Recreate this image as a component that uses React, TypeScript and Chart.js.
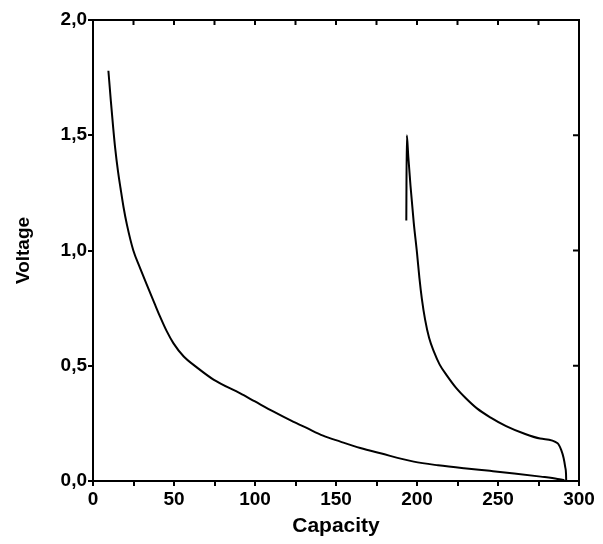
import React, { useEffect, useRef } from "react";
import { Chart, registerables } from "chart.js";

Chart.register(...registerables);

// Curve 1: long discharge curve
const curve1X = [9.5, 11, 12.5, 13.6, 15.5, 17, 18.8, 21, 24.9, 29, 33, 38.3, 41.4, 45.5, 49.7, 56, 64.1, 74.4, 90.9, 100, 111.5, 122, 132.2, 142, 152.7, 165, 177.5, 198, 213, 229, 245, 260, 276.4, 286.8, 291];
const curve1Y = [1.78, 1.65, 1.53, 1.45, 1.34, 1.27, 1.19, 1.11, 1.0, 0.925, 0.855, 0.765, 0.713, 0.65, 0.597, 0.54, 0.493, 0.44, 0.38, 0.345, 0.301, 0.263, 0.229, 0.197, 0.171, 0.143, 0.12, 0.084, 0.068, 0.055, 0.044, 0.033, 0.019, 0.009, 0.003];

// Curve 2: second discharge curve with initial spike
const curve2X = [193.4, 193.7, 194.6, 196, 198, 200, 201.5, 203, 205, 207.5, 210.5, 214, 218.7, 224, 230, 237, 245.5, 255, 266, 276, 286.8, 289, 290.5, 291.5, 292, 292.1];
const curve2Y = [1.13, 1.5, 1.41, 1.28, 1.12, 0.99, 0.88, 0.79, 0.7, 0.62, 0.56, 0.505, 0.455, 0.405, 0.36, 0.315, 0.275, 0.238, 0.206, 0.184, 0.164, 0.135, 0.1, 0.06, 0.03, 0.0];

const xMin = 0;
const xMax = 300;
const yMin = 0;
const yMax = 2.0;
const xTitle = "Capacity";
const yTitle = "Voltage";

const FONT = "'Liberation Sans', Arial, sans-serif";

const framePlugin = {
  id: "frameTicks",
  afterDraw(chart: any) {
    const { ctx, chartArea } = chart;
    const { left, right, top, bottom } = chartArea;
    const xs = chart.scales.x;
    const ys = chart.scales.y;
    ctx.save();
    ctx.strokeStyle = "#000";
    ctx.lineWidth = 2;
    ctx.beginPath();
    ctx.moveTo(left, top);
    ctx.lineTo(right, top);
    ctx.lineTo(right, bottom);
    ctx.stroke();
    ctx.beginPath();
    for (let v = 25; v < xMax; v += 25) {
      const px = xs.getPixelForValue(v);
      ctx.moveTo(px, top);
      ctx.lineTo(px, top + 5);
    }
    for (let v = 0.5; v < yMax; v += 0.5) {
      const py = ys.getPixelForValue(v);
      ctx.moveTo(right, py);
      ctx.lineTo(right - 6, py);
    }
    ctx.stroke();
    ctx.restore();
  },
};

export default function App() {
  const ref = useRef<HTMLCanvasElement | null>(null);
  useEffect(() => {
    if (!ref.current) return;
    const chart = new Chart(ref.current, {
      type: "line",
      data: {
        datasets: [
          {
            data: curve1X.map((x, i) => ({ x, y: curve1Y[i] })),
            borderColor: "#000",
            borderWidth: 2,
            pointRadius: 0,
            cubicInterpolationMode: "monotone",
            fill: false,
          },
          {
            data: curve2X.map((x, i) => ({ x, y: curve2Y[i] })),
            borderColor: "#000",
            borderWidth: 2,
            pointRadius: 0,
            cubicInterpolationMode: "monotone",
            fill: false,
          },
        ],
      },
      options: {
        animation: false,
        responsive: true,
        maintainAspectRatio: false,
        layout: { padding: { left: 0, top: 20, right: 24, bottom: 0 } },
        plugins: { legend: { display: false }, tooltip: { enabled: false } },
        scales: {
          x: {
            type: "linear",
            min: xMin,
            max: xMax,
            border: { display: true, color: "#000", width: 2 },
            grid: { drawOnChartArea: false, drawTicks: true, tickLength: 5, color: "#000", lineWidth: 2 },
            ticks: {
              stepSize: 25,
              autoSkip: false,
              maxRotation: 0,
              padding: 2,
              color: "#000",
              font: { family: FONT, size: 19, weight: "bold" },
              callback: (v: any) => (Number(v) % 50 === 0 ? String(v) : ""),
            },
            title: {
              display: true,
              text: xTitle,
              color: "#000",
              font: { family: FONT, size: 21, weight: "bold" },
              padding: { top: 0, bottom: 5 },
            },
            afterFit: (s: any) => {
              s.height = 63;
            },
          },
          y: {
            type: "linear",
            min: yMin,
            max: yMax,
            border: { display: true, color: "#000", width: 2 },
            grid: { drawOnChartArea: false, drawTicks: true, tickLength: 5, color: "#000", lineWidth: 2 },
            ticks: {
              stepSize: 0.5,
              padding: 1,
              color: "#000",
              font: { family: FONT, size: 19, weight: "bold" },
              callback: (v: any) => Number(v).toFixed(1).replace(".", ","),
            },
            title: {
              display: true,
              text: yTitle,
              color: "#000",
              font: { family: FONT, size: 19, weight: "bold" },
              padding: { top: 12, bottom: 0 },
            },
            afterFit: (s: any) => {
              s.width = 93;
            },
          },
        },
      },
      plugins: [framePlugin],
    });
    return () => chart.destroy();
  }, []);
  return (
    <div style={{ position: "fixed", left: 0, top: 0, width: 603, height: 544, background: "#fff" }}>
      <canvas ref={ref} />
    </div>
  );
}
